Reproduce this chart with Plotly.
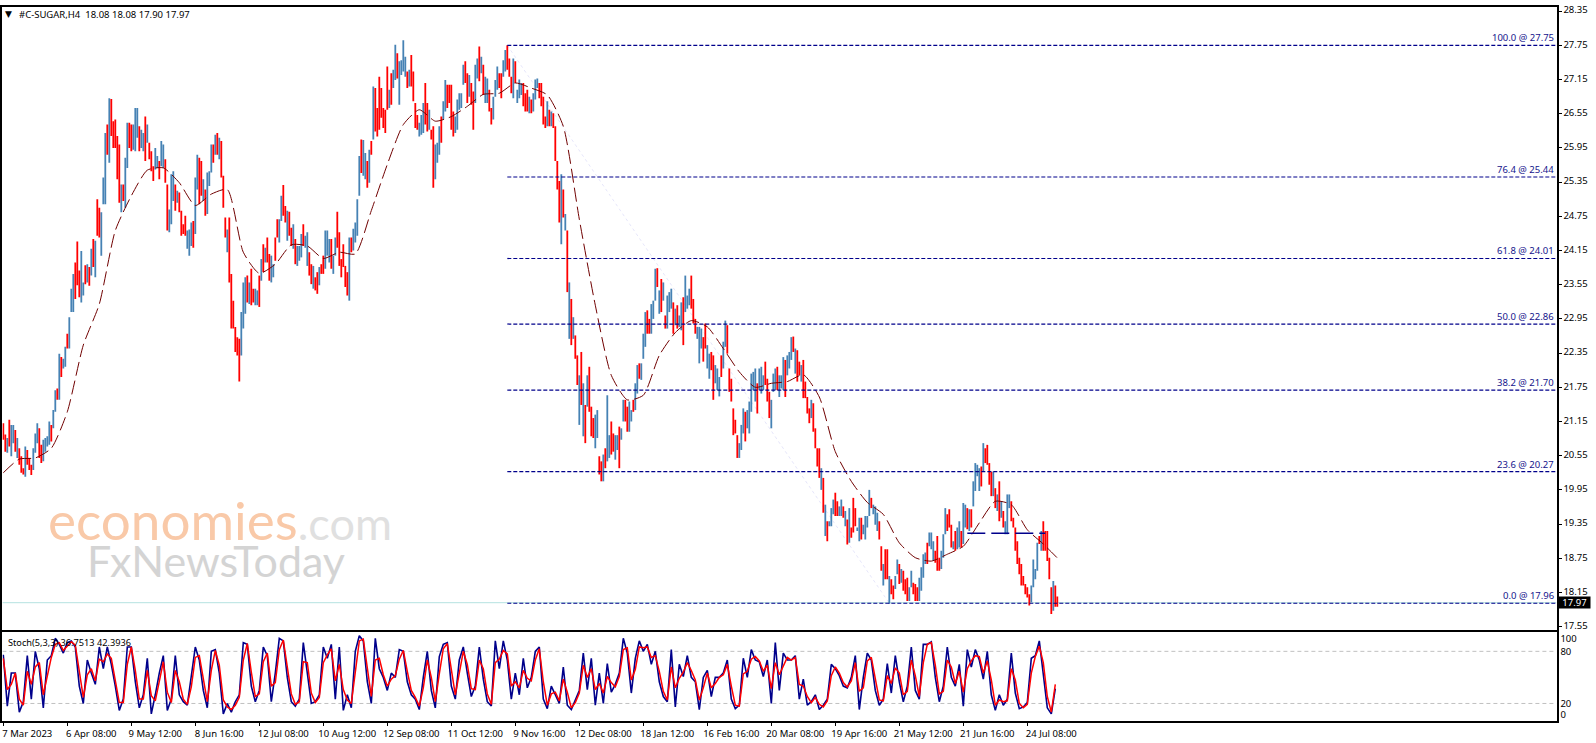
import plotly.graph_objects as go

W, H = 1596, 743
TEXT_FONT = "Noto Sans"

highs = [
21.12,20.92,20.86,21.18,21.09,21.09,21.00,20.86,20.68,20.54,
20.33,20.71,20.65,20.51,20.39,20.68,20.94,21.12,21.03,20.74,
20.83,20.86,20.89,21.15,21.09,21.35,21.70,21.73,22.34,22.28,
22.25,22.46,22.69,22.98,23.48,23.74,23.94,24.31,23.80,24.14,
23.59,23.89,23.91,23.86,24.18,24.35,24.32,25.05,24.90,24.82,
25.43,26.21,26.36,26.82,26.81,26.42,26.45,26.16,26.01,25.31,
25.31,25.78,26.39,26.39,26.36,26.36,26.65,26.65,26.33,26.27,
26.21,26.50,26.36,26.04,25.89,25.63,25.95,25.81,25.72,26.07,
26.01,25.75,25.31,24.87,25.49,25.54,25.31,25.20,25.17,24.85,
24.61,24.76,24.50,24.52,24.64,24.67,25.43,25.83,25.78,25.72,
25.40,25.22,25.52,25.54,26.01,26.01,26.18,26.21,26.13,26.07,
25.46,24.73,24.52,24.73,23.74,23.27,22.81,22.63,22.60,23.07,
23.59,23.68,23.71,23.59,23.83,23.48,23.48,23.45,23.71,24.00,
24.26,24.20,24.38,24.09,24.06,23.91,24.38,24.70,24.70,25.11,
25.30,24.93,24.85,24.83,24.55,24.61,24.35,24.23,24.23,24.44,
24.61,24.41,24.47,24.12,23.91,23.88,23.68,23.77,23.86,23.91,
24.06,24.50,24.50,24.35,24.35,24.06,24.38,24.83,24.47,24.00,
24.26,23.88,23.77,24.38,24.38,24.53,24.64,25.05,25.81,26.10,
26.09,25.86,25.72,25.92,26.07,27.03,27.00,26.65,27.20,27.00,
26.65,26.62,27.38,26.97,27.26,27.32,27.76,27.61,27.47,27.49,
27.84,27.55,27.29,27.32,27.58,27.29,26.74,26.53,26.39,26.53,
26.74,27.09,26.74,26.62,26.27,26.33,26.01,26.04,26.33,26.50,
26.77,27.14,27.06,27.06,27.06,26.59,26.50,26.80,26.91,26.91,
27.41,27.47,27.26,27.23,27.09,26.94,27.41,27.52,27.73,27.55,
27.41,27.20,27.17,26.97,26.65,26.85,27.14,27.38,27.26,27.26,
27.49,27.67,27.75,27.52,27.20,27.52,27.47,26.97,27.15,27.09,
27.09,26.91,26.97,26.85,26.80,26.91,27.15,27.17,27.09,27.09,
26.85,26.50,26.77,26.62,26.59,26.56,26.33,25.72,25.37,25.49,
25.22,24.79,24.50,23.59,23.30,22.98,22.66,22.31,21.96,22.37,
21.82,21.44,21.96,22.11,21.41,21.21,21.27,21.35,20.54,20.45,
20.57,20.68,21.61,20.91,21.15,20.94,20.91,20.91,21.06,21.03,
21.53,21.53,21.41,21.50,21.35,21.53,21.82,22.14,22.17,22.17,
22.69,23.07,23.10,22.95,23.21,23.27,23.83,23.84,23.45,23.65,
23.59,23.01,23.36,23.42,23.48,23.24,23.13,23.19,23.01,23.24,
23.33,23.71,23.36,23.48,23.71,23.30,22.95,22.81,22.81,22.78,
22.63,22.87,22.49,22.34,22.37,22.31,22.14,22.08,21.93,22.31,
22.55,22.92,22.84,22.08,21.90,21.38,21.18,20.91,20.77,21.09,
21.38,21.32,21.35,21.50,21.99,22.02,22.08,21.82,22.08,22.11,
21.96,22.20,21.90,21.67,21.53,21.99,22.08,22.11,21.96,21.96,
22.28,22.23,22.31,22.37,22.63,22.64,22.43,22.40,22.20,22.14,
22.23,21.85,21.58,21.38,21.53,21.47,21.03,20.68,20.68,20.33,
20.16,19.69,19.40,19.40,19.63,19.78,19.90,19.75,19.66,19.78,
19.66,19.58,19.43,19.63,19.29,19.81,19.63,19.29,19.46,19.46,
19.34,19.49,19.49,19.95,19.81,19.69,19.66,19.55,19.40,18.96,
18.65,18.91,18.91,18.44,18.38,18.27,18.44,18.73,18.65,18.56,
18.53,18.38,18.41,18.24,18.53,18.32,18.30,18.24,18.41,18.59,
18.82,18.85,19.02,19.20,19.20,19.05,18.88,19.14,18.76,18.88,
19.17,19.63,19.52,19.61,19.34,19.05,19.23,19.29,19.40,19.23,
19.72,19.69,19.63,19.61,19.61,20.10,20.42,20.39,20.33,20.36,
20.77,20.68,20.74,20.42,20.27,20.27,19.98,19.87,20.10,19.75,
19.58,19.40,19.87,19.87,19.75,19.46,19.29,19.05,18.76,18.65,
18.44,18.30,18.24,18.12,18.27,18.73,18.56,19.02,19.14,19.23,
19.40,19.23,19.23,18.76,18.24,18.35,18.27,18.08,
]
lows = [
20.83,20.62,20.60,20.71,20.54,20.77,20.62,20.51,20.39,20.25,
20.22,20.18,20.39,20.30,20.21,20.30,20.60,20.77,20.51,20.42,
20.45,20.62,20.71,20.74,20.80,21.03,21.32,21.53,21.53,21.93,
22.08,22.11,22.43,22.43,23.07,23.07,23.30,23.54,23.33,23.24,
23.36,23.56,23.59,23.53,23.71,23.86,23.68,24.41,24.38,24.06,
24.96,24.96,25.83,25.69,26.16,25.95,25.95,25.40,24.99,24.82,
25.02,24.90,25.60,25.95,25.89,25.92,25.89,26.13,25.89,25.95,
25.89,25.72,26.04,25.75,25.54,25.37,25.57,25.60,25.40,25.63,
25.60,25.34,24.50,24.47,24.61,25.02,24.85,24.99,24.82,24.41,
24.44,24.41,24.18,24.06,24.23,24.20,24.44,25.22,24.96,25.11,
25.02,24.76,24.79,25.28,25.52,25.69,25.83,25.83,25.75,25.43,
24.90,24.38,24.12,23.59,22.78,22.78,22.37,22.31,21.85,22.31,
22.78,23.04,23.24,23.21,23.19,23.24,23.19,23.19,23.16,23.62,
23.77,23.94,23.94,23.62,23.59,23.68,23.97,24.38,24.29,24.67,
24.76,24.64,24.32,24.41,24.23,24.18,23.91,23.88,23.97,24.03,
24.23,24.20,23.88,23.71,23.56,23.48,23.45,23.39,23.54,23.74,
23.74,23.83,24.06,23.94,23.83,23.74,24.06,24.20,23.88,23.68,
23.86,23.51,23.36,23.27,24.12,24.15,24.29,24.41,25.11,25.51,
25.46,25.40,25.25,25.34,25.83,26.10,26.24,26.15,26.27,26.48,
26.30,26.21,26.62,26.65,26.71,27.00,27.14,27.17,26.71,27.23,
27.29,27.20,27.00,27.03,27.03,26.77,26.30,26.27,26.15,26.18,
26.21,26.36,26.24,26.27,26.10,25.25,25.40,25.69,25.83,26.04,
26.45,26.59,26.65,26.74,26.27,26.15,26.21,26.27,26.62,26.65,
27.06,27.09,26.74,26.85,26.71,26.27,26.74,27.17,27.12,27.26,
26.88,26.74,26.74,26.59,26.36,26.45,26.85,26.97,27.00,26.82,
27.20,27.29,27.32,27.20,26.91,26.82,27.09,26.74,26.82,26.88,
26.68,26.59,26.59,26.56,26.56,26.59,26.80,27.00,26.82,26.68,
26.36,26.30,26.33,26.33,26.33,26.30,25.72,25.22,24.64,24.26,
24.73,24.50,23.42,22.60,22.49,22.60,22.25,21.79,21.09,21.44,
20.89,20.77,21.41,21.32,20.89,20.86,20.68,20.86,20.22,20.10,
20.10,20.33,20.45,20.51,20.57,20.62,20.48,20.65,20.33,20.83,
21.15,21.15,20.97,20.97,21.15,21.32,21.35,21.64,21.90,21.88,
22.25,22.46,22.69,22.69,22.69,22.95,23.27,23.51,23.04,23.07,
23.27,22.78,22.78,23.07,23.13,22.69,22.84,22.78,22.81,22.75,
22.49,23.07,23.13,23.19,23.13,22.87,22.69,22.60,22.17,22.43,
22.20,22.43,22.08,21.90,22.05,21.53,21.82,21.70,21.59,21.93,
22.08,22.46,22.34,21.67,21.50,20.91,20.94,20.51,20.51,20.65,
20.94,20.80,21.03,20.94,21.32,21.70,21.50,21.29,21.70,21.64,
21.70,21.79,21.50,21.21,21.03,21.67,21.70,21.70,21.58,21.73,
21.70,21.58,21.96,22.08,22.23,22.37,21.99,21.85,21.96,21.85,
21.56,21.56,21.29,21.12,21.21,20.97,20.68,20.36,20.16,19.95,
19.55,19.14,19.05,19.31,19.31,19.52,19.49,19.49,19.49,19.49,
19.46,19.31,18.99,19.02,19.11,19.20,19.31,19.23,19.05,19.08,
19.17,19.08,19.29,19.49,19.63,19.52,19.34,19.23,19.08,18.53,
18.27,18.38,18.38,17.95,18.12,18.03,18.21,18.47,18.30,18.32,
18.18,18.12,18.00,18.00,18.24,18.12,18.00,18.00,18.00,18.18,
18.41,18.65,18.65,18.96,18.91,18.70,18.67,18.53,18.53,18.56,
18.76,19.17,19.23,19.29,18.94,18.91,18.88,18.91,18.94,18.94,
19.00,19.29,19.26,19.23,19.29,19.66,19.93,20.19,19.93,20.01,
20.27,20.42,20.39,20.04,19.84,19.84,19.63,19.58,19.40,19.46,
19.29,19.17,19.17,19.63,19.40,19.29,18.88,18.65,18.47,18.27,
18.27,18.12,18.06,17.92,17.98,18.24,18.38,18.53,19.00,18.88,
18.88,18.88,18.70,18.38,17.77,17.83,17.90,17.90,
]
directions = (
"DDUDUUDUDD" "DUDDDUUUDD" "UUUUDUUDUD" "UUDUUUDDDU" "UDUDUDUDDU"
"UUDUDDDDDU" "DUUDDUUUDU" "UDUDDDUUDU" "UDDUUUDUDD" "DDUUUDUUDD"
"UDUUUDUDUD" "DDUDDDDDDU" "UUDUDDUUDU" "DUDDUUDDUU" "DDUDDUDUUU"
"DUUDDUDDUD" "DUUUDUUDDD" "DDDUDUUUUD" "UUDUDUDDDD" "DDDUDUUDUU"
"UUDUDDDDUU" "UDDUDDUUUD" "UUDDDDUUUU" "UDDUDDUUDU" "DUUDDUUUDD"
"UUDDDUDUUU" "DDDUDUUUDD" "DDUDUDDDDU" "DUDUDUDDUD" "UDUDDDUUDD"
"UDUUDDUUDU" "UDDUUDUUDU" "UUDDUUUDUD" "UDUUUDUDUU" "DUUUDDDUUU"
"DDUUDDUUUD" "UUDDDDDDUU" "UDUUUUUDUU" "UDDDUUUDUU" "UDUUUDUDDU"
"DDDDUDDDDU" "DUDUUUDDUU" "DUDUDDDUUD" "UUUUDUUUDD" "UDDUDDUUDU"
"DDDUUDDDUU" "UUDUUUDDDU" "UUDDDUDUUD" "UUDUDUUUUD" "UDDDDUDUDU"
"DUUUDDDDDD" "DDDDUUUUDU" "DDDDDUDD"
)

ma_step = 8
ma_values = [
20.25,20.49,20.51,20.68,21.32,22.49,23.21,24.50,25.11,25.56,25.60,25.34,24.94,25.14,25.22,24.12,
23.75,23.91,24.25,24.23,24.01,24.12,24.09,24.85,25.66,26.36,26.62,26.42,26.50,26.68,26.89,26.91,
27.09,27.00,26.88,26.33,24.70,23.19,21.96,21.53,21.61,22.31,22.71,22.92,22.81,22.43,22.02,21.75,
21.82,21.85,21.97,21.58,20.62,20.10,19.73,19.52,19.02,18.76,18.70,18.82,18.96,19.37,19.75,19.69,
19.25,19.00,18.72,
]

stoch_step = 2
stoch_main = [
76,17,55,55,10,22,75,25,80,60,15,70,75,95,88,78,90,92,85,40,
20,70,55,42,85,60,85,65,40,12,25,85,85,45,15,30,72,8,30,55,
75,12,25,75,30,22,18,50,85,70,35,15,80,82,55,8,20,10,22,30,
90,88,40,22,35,85,75,22,55,95,92,50,22,17,25,90,55,20,22,30,
85,72,88,25,85,12,30,15,80,98,92,45,20,95,60,50,35,55,50,82,
80,45,30,25,13,50,80,35,15,74,88,90,40,25,70,85,55,28,40,85,
48,22,17,92,60,92,70,25,55,30,72,38,50,80,85,25,14,40,30,20,
62,18,13,25,35,78,36,72,18,55,20,66,33,42,55,95,78,32,72,92,
80,88,65,80,45,28,22,82,16,65,51,75,50,45,13,
50,58,28,50,50,55,70,25,14,18,72,50,82,70,68,51,70,20,90,35,
78,70,70,75,25,48,18,22,30,13,18,25,65,60,52,40,38,50,75,13,
50,78,70,35,18,25,66,32,75,45,22,40,85,35,25,88,88,91,50,22,
40,85,50,40,65,17,82,62,82,70,48,80,30,12,30,18,25,78,32,14,
16,21,72,75,92,55,15,8,37,
]
stoch_signal = [
72,36,42,55,25,18,57,42,62,67,30,52,73,88,90,81,86,91,87,55,
27,53,60,46,71,68,77,72,48,21,21,65,85,58,25,25,58,29,23,47,
68,33,21,58,45,25,19,39,73,75,47,22,58,81,64,24,16,13,18,27,
70,89,56,28,31,68,78,40,44,82,93,64,31,19,22,68,67,32,21,27,
67,76,83,46,65,36,24,20,58,92,94,61,28,70,72,53,40,48,52,71,
81,57,35,27,17,38,70,50,22,54,83,89,57,30,55,80,65,37,36,70,
60,31,19,67,71,81,77,40,45,38,58,49,46,70,83,45,18,31,33,23,
48,33,15,21,32,64,50,60,36,43,32,51,44,39,51,82,84,47,59,85,
84,85,73,75,57,34,24,62,38,49,56,67,58,47,24,
38,55,38,43,50,53,65,40,18,17,54,57,71,74,69,57,64,37,67,53,
64,73,70,73,42,40,28,21,27,19,16,23,52,62,55,44,39,46,67,34,
38,69,73,47,24,23,52,43,61,55,30,34,70,52,28,67,88,90,64,31,
34,70,62,43,57,33,60,69,75,74,55,69,47,18,24,22,23,60,47,20,
15,19,55,74,86,67,28,10,42,
]

price_ticks = [28.35,27.75,27.15,26.55,25.95,25.35,24.75,24.15,23.55,22.95,22.35,21.75,21.15,20.55,19.95,19.35,18.75,18.15,17.55]
time_labels = ["7 Mar 2023","6 Apr 08:00","9 May 12:00","8 Jun 16:00","12 Jul 08:00","10 Aug 12:00","12 Sep 08:00",
               "11 Oct 12:00","9 Nov 16:00","12 Dec 08:00","18 Jan 12:00","16 Feb 16:00","20 Mar 08:00","19 Apr 16:00",
               "21 May 12:00","21 Jun 16:00","24 Jul 08:00"]
time_label_step = 32

fib_labels = ["100.0 @ 27.75","76.4 @ 25.44","61.8 @ 24.01","50.0 @ 22.86","38.2 @ 21.70","23.6 @ 20.27","0.0 @ 17.96"]
fib_levels = [27.75,25.44,24.01,22.86,21.70,20.27,17.96]
fib_start_bar = 252
fib_end_bar = 443
last_price = 17.97
pivot_level = 19.19
pivot_bars = [482, 521]

n = min(len(highs), len(lows))
dirs = (directions + "U" * n)[:n]
X_MIN, X_MAX = -0.45, 776.6


def ranges(flag):
    xs, ys = [], []
    for i in range(n):
        if dirs[i] == flag:
            xs += [i, i, None]
            ys += [lows[i], highs[i], None]
    return xs, ys


fig = go.Figure()
ax1 = dict(xaxis="x", yaxis="y")
ax2 = dict(xaxis="x2", yaxis="y2")

fig.add_trace(go.Scatter(x=[X_MIN, X_MAX], y=[last_price, last_price], mode="lines",
                         line=dict(color="#b4e2e0", width=1), hoverinfo="skip", **ax1))
fig.add_trace(go.Scatter(x=[fib_start_bar, fib_end_bar], y=[fib_levels[0], fib_levels[-1]], mode="lines",
                         line=dict(color="#e6e6fa", width=1, dash="dot"), hoverinfo="skip", **ax1))
for flag, colour in (("U", "#4682b4"), ("D", "#ff0000")):
    bx, by = ranges(flag)
    fig.add_trace(go.Scatter(x=bx, y=by, mode="lines", line=dict(color=colour, width=1.8),
                             connectgaps=False, hoverinfo="skip", **ax1))
fig.add_trace(go.Scatter(x=[i * ma_step for i in range(len(ma_values))], y=ma_values, mode="lines",
                         line=dict(color="#700000", width=1, dash="14px,5px", shape="spline", smoothing=0.6),
                         hoverinfo="skip", **ax1))
for lvl in fib_levels:
    fig.add_trace(go.Scatter(x=[fib_start_bar, X_MAX], y=[lvl, lvl], mode="lines",
                             line=dict(color="#00008b", width=1.2, dash="4px,2px"), hoverinfo="skip", **ax1))
fig.add_trace(go.Scatter(x=pivot_bars, y=[pivot_level, pivot_level], mode="lines",
                         line=dict(color="#00008b", width=1.5, dash="18px,6px"), hoverinfo="skip", **ax1))

for lvl in (80, 20):
    fig.add_trace(go.Scatter(x=[X_MIN, X_MAX], y=[lvl, lvl], mode="lines",
                             line=dict(color="#c0c0c0", width=1, dash="4px,3px"), hoverinfo="skip", **ax2))
fig.add_trace(go.Scatter(x=[i * stoch_step for i in range(len(stoch_main))], y=stoch_main, mode="lines",
                         line=dict(color="#00008b", width=1.6), hoverinfo="skip", **ax2))
fig.add_trace(go.Scatter(x=[i * stoch_step for i in range(len(stoch_signal))], y=stoch_signal, mode="lines",
                         line=dict(color="#ff0000", width=1.5), hoverinfo="skip", **ax2))

tick_font = dict(family=TEXT_FONT, size=9.5, color="#000000")
xdom = [2.4 / W, 1556.5 / W]
frame = dict(showline=True, linecolor="#000000", linewidth=2, mirror=True, showgrid=False, zeroline=False)

annotations = [
    dict(text="#C-SUGAR,H4  18.08 18.08 17.90 17.97", xref="paper", yref="paper", x=17 / W, y=1 - 10.5 / H,
         xanchor="left", yanchor="middle", showarrow=False, font=tick_font),
    dict(text="▼", xref="paper", yref="paper", x=8.5 / W, y=1 - 10.5 / H, xanchor="center", yanchor="middle",
         showarrow=False, font=dict(family="DejaVu Sans", size=9, color="#000000")),
    dict(text="Stoch(5,3,3) 36.7513 42.3936", xref="paper", yref="paper", x=6 / W, y=1 - 642.5 / H,
         xanchor="left", yanchor="middle", showarrow=False, font=dict(family=TEXT_FONT, size=9.2, color="#000000")),
    dict(text=f"{last_price:.2f}", xref="paper", yref="y", x=1558 / W, y=last_price, xanchor="left", yanchor="middle",
         showarrow=False, bgcolor="#000000", width=31, height=11, borderpad=0,
         font=dict(family=TEXT_FONT, size=9.5, color="#ffffff")),
    dict(text="economies<span style='color:#e0e0e0;font-size:45px'>.com</span>", xref="paper", yref="paper",
         x=46 / W, y=1 - 519 / H, xanchor="left", yanchor="middle",
         showarrow=False, font=dict(family="Lato", size=53, color="#f9c9a8")),
    dict(text="FxNewsToday", xref="paper", yref="paper", x=85 / W, y=1 - 560 / H, xanchor="left", yanchor="middle",
         showarrow=False, font=dict(family="Lato", size=43, color="#d4d4d4")),
]
for label, lvl in zip(fib_labels, fib_levels):
    annotations.append(dict(text=label, xref="paper", yref="y", x=1555 / W, y=lvl, xanchor="right", yanchor="bottom",
                            showarrow=False, borderpad=0,
                            font=dict(family=TEXT_FONT, size=9.5, color="#14148c")))

fig.update_layout(
    width=W, height=H, margin=dict(l=0, r=0, t=0, b=0), paper_bgcolor="#ffffff", plot_bgcolor="#ffffff",
    showlegend=False, annotations=annotations,
    xaxis=dict(domain=xdom, range=[X_MIN, X_MAX], showticklabels=False, ticks="", anchor="y", **frame),
    xaxis2=dict(domain=xdom, range=[X_MIN, X_MAX], anchor="y2", ticks="outside", ticklen=3, tickcolor="#000000",
                tickvals=[i * time_label_step for i in range(len(time_labels))], ticktext=time_labels,
                ticklabelshift=24, tickfont=tick_font, tickangle=0, **frame),
    yaxis=dict(domain=[1 - 630.7 / H, 1 - 3.2 / H], range=[17.483, 28.42], side="right", anchor="x",
               tickvals=price_ticks, ticktext=[f"{p:.2f}" for p in price_ticks], ticks="outside", ticklen=3,
               ticklabelshift=-1, ticklabeloverflow="allow", tickcolor="#000000", tickfont=tick_font, **frame),
    yaxis2=dict(domain=[1 - 721.7 / H, 1 - 632.3 / H], range=[0, 102.2], side="right", anchor="x2",
                tickvals=[94.2, 80, 20, 7], ticktext=["100", "80", "20", "0"], ticks="", tickfont=tick_font, **frame),
)

fig.write_html("out.html", config={"displayModeBar": False},
               post_script="document.body.style.margin='0';document.body.style.overflow='hidden';")
